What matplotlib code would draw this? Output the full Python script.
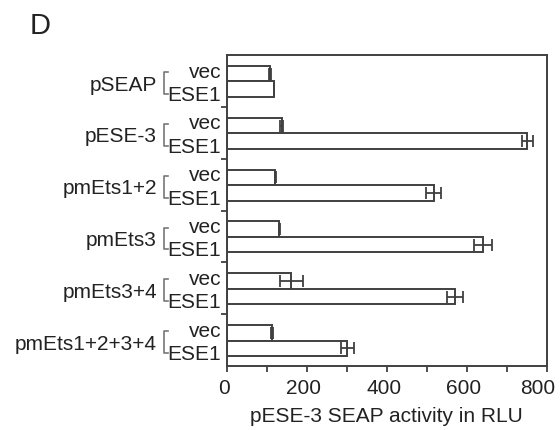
import matplotlib.pyplot as plt
import matplotlib.transforms as mtransforms
import numpy as np

plt.rcParams['font.family'] = ['Liberation Sans', 'DejaVu Sans']

# Werte aus der Abbildung (RLU)
groups = ['pSEAP', 'pESE-3', 'pmEts1+2', 'pmEts3', 'pmEts3+4', 'pmEts1+2+3+4']
vec_vals = [108, 138, 122, 132, 162, 114]
vec_err = [3, 4, 2, 2, 28, 2]
ese1_vals = [118, 752, 518, 641, 571, 302]
ese1_err = [0, 13, 19, 22, 19, 16]
x_ticks = [0, 200, 400, 600, 800]

line_col = '#404040'
txt_col = '#222222'
fs = 15

fig = plt.figure(figsize=(5.6, 4.31), dpi=100)
ax = fig.add_axes([0.4048, 0.1485, 0.5714, 0.7215])

pos = np.arange(len(groups))
h = 0.3
y_vec = pos + 0.36
y_ese = pos + 0.66

ax.barh(y_vec, vec_vals, height=h, color='white', edgecolor=line_col, linewidth=1.4)
ax.barh(y_ese, ese1_vals, height=h, color='white', edgecolor=line_col, linewidth=1.4)
ax.errorbar(vec_vals, y_vec, xerr=vec_err, fmt='none', ecolor=line_col,
            elinewidth=1.3, capsize=4, capthick=1.3)
ax.errorbar(ese1_vals, y_ese, xerr=ese1_err, fmt='none', ecolor=line_col,
            elinewidth=1.3, capsize=4, capthick=1.3)

ax.set_ylim(len(groups), 0)
ax.set_xlim(0, 800)
ax.set_xticks(x_ticks)
ax.set_xticks([100, 300, 500, 700], minor=True)
ax.set_yticks(pos[1:])
ax.set_yticklabels([])
ax.tick_params(axis='both', which='both', colors=line_col, labelcolor=txt_col,
               width=1.3, length=4)
ax.tick_params(axis='x', labelsize=fs, pad=5)
for s in ax.spines.values():
    s.set_color(line_col)
    s.set_linewidth(1.4)

# Ticklabels leicht nach links, "800" passend in den Rand
for lab, dx in zip(ax.get_xticklabels(), [-3, -3, -3, -3, -9]):
    lab.set_transform(lab.get_transform() +
                      mtransforms.ScaledTranslation(dx / 100, 0, fig.dpi_scale_trans))

ax.set_xlabel('pESE-3 SEAP activity in RLU', fontsize=fs, color=txt_col, labelpad=6)

# Beschriftungen links
trans = mtransforms.blended_transform_factory(fig.transFigure, ax.transData)
for i, g in enumerate(groups):
    ax.text(221 / 560, y_vec[i] - 0.05, 'vec', transform=trans, ha='right', va='center',
            fontsize=fs, color=txt_col)
    ax.text(221 / 560, y_ese[i] + 0.1, 'ESE1', transform=trans, ha='right', va='center',
            fontsize=fs, color=txt_col)
    ax.text(157 / 560, i + 0.56, g, transform=trans, ha='right', va='center',
            fontsize=fs, color=txt_col)
    # Klammer
    bx0, bx1 = 164 / 560, 168 / 560
    y0, y1 = i + 0.33, i + 0.75
    ax.plot([bx1, bx0, bx0, bx1], [y0, y0, y1, y1], transform=trans,
            color='#777777', lw=1.2, clip_on=False)

fig.text(30 / 560, 1 - 12 / 431, 'D', fontsize=21, ha='left', va='top', color=txt_col)

fig.savefig('out.png', dpi=100)
